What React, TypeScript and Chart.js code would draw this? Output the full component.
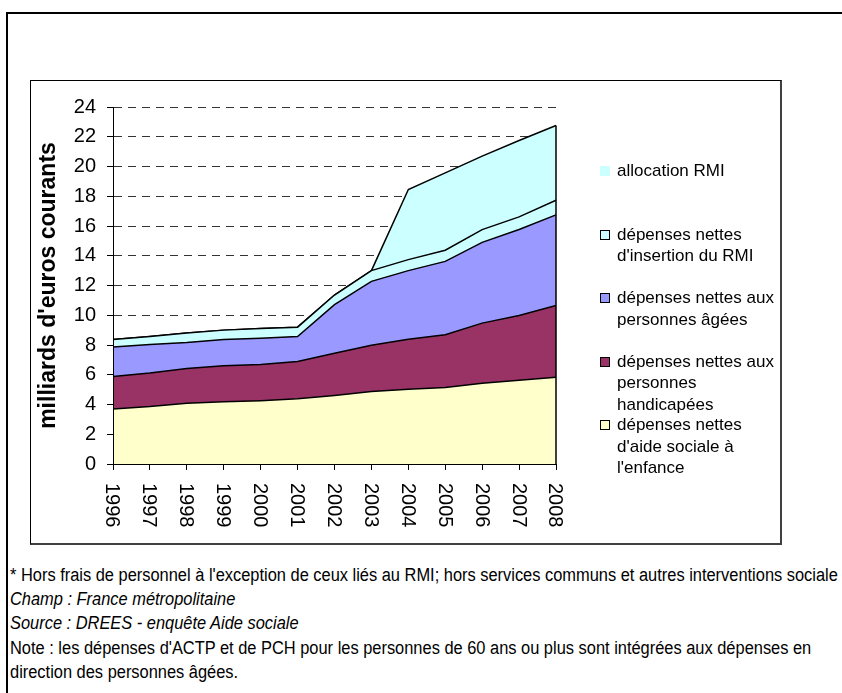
import React, { useEffect, useLayoutEffect, useRef } from 'react';
import { Chart, registerables } from 'chart.js';

Chart.register(...registerables);

// ---- Data ----
const years = ['1996', '1997', '1998', '1999', '2000', '2001', '2002', '2003', '2004', '2005', '2006', '2007', '2008'];
const enfance = [3.7, 3.86, 4.09, 4.18, 4.26, 4.38, 4.6, 4.87, 5.03, 5.14, 5.43, 5.63, 5.84];
const handicapees = [2.18, 2.25, 2.33, 2.42, 2.43, 2.51, 2.85, 3.12, 3.36, 3.55, 4.04, 4.36, 4.82];
const agees = [1.98, 1.93, 1.75, 1.77, 1.77, 1.68, 3.26, 4.29, 4.61, 4.93, 5.43, 5.77, 6.09];
const insertion = [0.51, 0.53, 0.63, 0.63, 0.65, 0.63, 0.65, 0.72, 0.74, 0.75, 0.86, 0.85, 0.98];
const allocation = [0, 0, 0, 0, 0, 0, 0, 0, 4.71, 5.2, 4.94, 5.14, 5.03];

const yMin = 0;
const yMax = 24;
const yStep = 2;

const yTitle = "milliards d'euros courants";

// legend labels (lines)
const labelAllocation = ['allocation RMI'];
const labelInsertion = ['dépenses nettes', "d'insertion du RMI"];
const labelAgees = ['dépenses nettes aux', 'personnes âgées'];
const labelHandicapees = ['dépenses nettes aux', 'personnes', 'handicapées'];
const labelEnfance = ['dépenses nettes', "d'aide sociale à", "l'enfance"];

const footerLines = [
  "* Hors frais de personnel à l'exception de ceux liés au RMI; hors services communs et autres interventions sociale",
  'Champ : France métropolitaine',
  'Source : DREES - enquête Aide sociale',
  "Note : les dépenses d'ACTP et de PCH pour les personnes de 60 ans ou plus sont intégrées aux dépenses en",
  'direction des personnes âgées.',
];
const footerItalic = [false, true, true, false, false];

// ---- Styles ----
const FONT = "'Liberation Sans', Arial, sans-serif";
const NARROW = "'Liberation Sans Narrow', 'Arial Narrow', 'Liberation Sans', Arial, sans-serif";

const colEnfance = '#FFFFCC';
const colHandicapees = '#993366';
const colAgees = '#9999FF';
const colInsertion = '#CCFFFF';
const colAllocation = '#CCFFFF';

const stackSeries = [enfance, handicapees, agees, insertion, allocation];
const stackLabels = [labelEnfance, labelHandicapees, labelAgees, labelInsertion, labelAllocation];
const stackColors = [colEnfance, colHandicapees, colAgees, colInsertion, colAllocation];
const legendSwatchBorder = [true, true, true, true, false];

const footerTops = [563, 587, 611, 636, 660];
const footerFirstLineWidth = 828;

const xLabelPlugin = {
  id: 'rotatedXLabels',
  afterDraw(chart: any) {
    const xs = chart.scales.x;
    const ctx = chart.ctx;
    ctx.save();
    ctx.font = `20px ${FONT}`;
    ctx.fillStyle = '#000';
    ctx.textAlign = 'left';
    ctx.textBaseline = 'middle';
    xs.ticks.forEach((t: any, i: number) => {
      const x = xs.getPixelForTick(i);
      ctx.save();
      ctx.translate(x - 1, xs.top + 19);
      ctx.rotate(Math.PI / 2);
      ctx.fillText(String(xs.getLabelForValue(t.value)), 0, 0);
      ctx.restore();
    });
    ctx.restore();
  },
};

const rightEdgePlugin = {
  id: 'rightEdge',
  afterDatasetsDraw(chart: any) {
    const xs = chart.scales.x;
    const ys = chart.scales.y;
    const last = years.length - 1;
    const total = stackSeries.reduce((s, d) => s + d[last], 0);
    const x = xs.getPixelForValue(last);
    const ctx = chart.ctx;
    ctx.save();
    ctx.strokeStyle = '#000';
    ctx.lineWidth = 1.5;
    ctx.beginPath();
    ctx.moveTo(x, ys.getPixelForValue(total));
    ctx.lineTo(x, ys.getPixelForValue(0));
    ctx.stroke();
    ctx.restore();
  },
};

export default function App() {
  const ref = useRef<HTMLCanvasElement>(null);
  const footRefs = useRef<(HTMLDivElement | null)[]>([]);

  useLayoutEffect(() => {
    const first = footRefs.current[0];
    if (!first) return;
    const w = first.scrollWidth;
    const s = w > 0 ? Math.min(1, footerFirstLineWidth / w) : 1;
    footRefs.current.forEach((el) => {
      if (el) {
        el.style.transform = `scaleX(${s})`;
        el.style.transformOrigin = 'left top';
      }
    });
  }, []);

  useEffect(() => {
    if (!ref.current) return;
    const chart = new Chart(ref.current, {
      type: 'line',
      data: {
        labels: years,
        datasets: stackSeries.map((d, i) => ({
          label: stackLabels[i].join(' '),
          data: d,
          backgroundColor: stackColors[i],
          borderColor: '#000',
          borderWidth: 1.5,
          pointRadius: 0,
          pointHoverRadius: 0,
          tension: 0,
          fill: i === 0 ? 'origin' : '-1',
        })),
      },
      options: {
        animation: false,
        responsive: false,
        events: [],
        layout: { padding: { left: 0, top: 27, right: 225, bottom: 0 } },
        plugins: {
          legend: { display: false },
          tooltip: { enabled: false },
        },
        scales: {
          x: {
            type: 'category',
            offset: false,
            afterFit: (s: any) => {
              s.height = 80;
            },
            grid: {
              display: true,
              drawOnChartArea: false,
              drawTicks: true,
              tickLength: 6,
              color: '#000',
              offset: false,
            },
            border: { display: true, color: '#000', width: 1, z: 1 },
            ticks: { display: false },
          },
          y: {
            stacked: true,
            min: yMin,
            max: yMax,
            afterFit: (s: any) => {
              s.width = 83;
            },
            ticks: {
              stepSize: yStep,
              color: '#000',
              padding: 11,
              font: { family: FONT, size: 20 },
            },
            grid: {
              color: '#333',
              lineWidth: 1,
              drawTicks: true,
              tickLength: 6,
              tickColor: '#000',
              tickBorderDash: [],
            },
            border: { display: true, color: '#000', width: 1, dash: [8, 6], z: 1 },
            title: {
              display: true,
              text: yTitle,
              color: '#000',
              font: { family: FONT, size: 23, weight: 'bold' },
              padding: { top: 5, bottom: 0 },
            },
          },
        },
      },
      plugins: [xLabelPlugin, rightEdgePlugin],
    } as any);
    return () => chart.destroy();
  }, []);

  const legendOrder = [4, 3, 2, 1, 0];

  return (
    <div
      style={{
        position: 'absolute',
        left: 0,
        top: 0,
        width: 842,
        height: 693,
        overflow: 'hidden',
        background: '#fff',
        fontFamily: FONT,
        color: '#000',
      }}
    >
      <div
        style={{
          position: 'absolute',
          left: 6,
          top: 12,
          right: -10,
          bottom: -10,
          borderTop: '2px solid #000',
          borderLeft: '2px solid #000',
        }}
      />
      <div
        style={{
          position: 'absolute',
          left: 30,
          top: 80,
          width: 752,
          height: 465,
          boxSizing: 'border-box',
          borderTop: '1px solid #000',
          borderLeft: '1px solid #000',
          borderRight: '2px solid #404040',
          borderBottom: '2px solid #404040',
        }}
      />
      <canvas
        ref={ref}
        width={751}
        height={464}
        style={{ position: 'absolute', left: 30, top: 80, width: 751, height: 464 }}
      />
      {legendOrder.map((si, k) => (
        <div key={k} style={{ position: 'absolute', left: 600, top: 160 + k * 63.5 }}>
          <div
            style={{
              position: 'absolute',
              left: 0,
              top: 6,
              width: 10,
              height: 10,
              boxSizing: 'border-box',
              background: stackColors[si],
              border: legendSwatchBorder[si] ? '1px solid #000' : 'none',
            }}
          />
          <div
            style={{
              position: 'absolute',
              left: 17,
              top: 0,
              fontSize: 17,
              lineHeight: '21.5px',
              whiteSpace: 'nowrap',
            }}
          >
            {stackLabels[si].map((l, j) => (
              <div key={j}>{l}</div>
            ))}
          </div>
        </div>
      ))}
      {footerLines.map((t, i) => (
        <div
          key={i}
          ref={(el) => {
            footRefs.current[i] = el;
          }}
          style={{
            position: 'absolute',
            left: 10,
            top: footerTops[i],
            fontFamily: NARROW,
            fontSize: 18,
            lineHeight: '24px',
            whiteSpace: 'nowrap',
            fontStyle: footerItalic[i] ? 'italic' : 'normal',
          }}
        >
          {t}
        </div>
      ))}
    </div>
  );
}
